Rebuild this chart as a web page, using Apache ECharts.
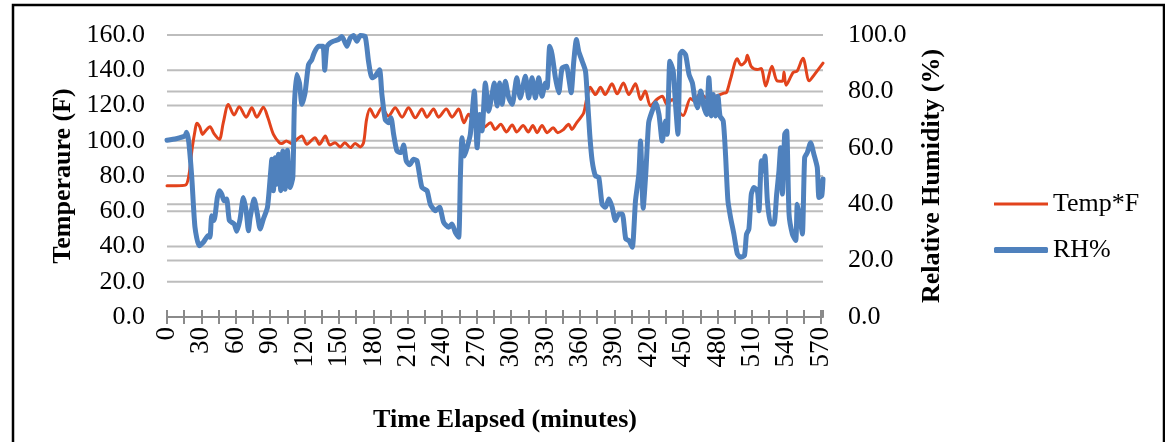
<!DOCTYPE html>
<html>
<head>
<meta charset="utf-8">
<script src="https://cdn.jsdelivr.net/npm/echarts@6/dist/echarts.min.js"></script>
<style>
  html, body { margin: 0; padding: 0; background: #fff; }
  #chart { width: 1165px; height: 442px; background: #fff; }
</style>
</head>
<body>
<div id="chart"></div>
<script>
// Chamber log: temperature (F) and relative humidity (%) vs. elapsed minutes
const tempMinutes = [0, 8, 16, 19, 22, 24.5, 26, 28.5, 31, 34, 37.5, 41, 45.6, 49, 53.5, 58.5, 63, 69, 74, 78.3, 84, 88, 92.8, 98, 100, 104, 108.8, 113, 117.5, 122, 129, 133, 138, 142, 146.6, 151, 155, 160, 164, 168.5, 171.4, 174, 177, 181.6, 187.4, 193, 199, 205, 210.6, 216.5, 222.3, 226.7, 232.4, 236.8, 243.5, 248.5, 254.3, 259, 263, 268, 271, 276, 282, 286, 291, 296, 301, 305, 310.5, 315, 319, 322.7, 327, 331.5, 336.7, 340.7, 345, 350.3, 353, 357, 360.5, 363.4, 366, 369, 373.6, 378, 382, 388, 392.5, 398, 402.7, 408.5, 413, 417, 421.6, 427, 431.8, 436, 440.5, 445, 450, 456.5, 460, 465, 470, 477, 485.6, 488, 491.4, 497.3, 500.5, 504.5, 506, 509.5, 514.8, 518, 522, 527.5, 532, 536.6, 538, 539.8, 546, 549.4, 554.5, 560, 564.5, 572];
const tempValues = [74.5, 74.5, 74.8, 80, 96, 106, 110, 108, 103.6, 106, 108, 104, 100.8, 110, 120.6, 114.6, 119.3, 113.4, 118.7, 113.4, 119, 113, 103.6, 98.8, 98.4, 99.9, 98.4, 100.6, 102.7, 98, 101.7, 98, 102.7, 97.6, 98.9, 96.5, 98.9, 96.1, 98.5, 96.5, 98.9, 112, 118.1, 113.4, 118.7, 114, 118.7, 113.4, 118.7, 113, 118, 113.4, 118, 113.4, 118, 113.4, 118, 110.2, 115, 111, 112, 107.4, 110.2, 106.4, 109.3, 105, 109, 105, 108.7, 105, 108.7, 104.6, 108.7, 104.6, 107.4, 104.6, 106, 109.3, 106.4, 110, 113, 115.9, 124, 130.4, 126.2, 130.4, 126.2, 132.3, 126.6, 132.8, 126.2, 132.3, 123.4, 128.2, 119.7, 123.4, 125.3, 120.6, 123.4, 118, 114.3, 124, 122.5, 126.8, 124.5, 125, 127, 127.5, 135, 146.5, 143, 145, 148.5, 142, 140.4, 141, 131, 142.3, 134, 133.8, 139, 131.5, 138.8, 139.5, 146.8, 134, 137.5, 144];

const rhMinutes = [0, 8, 15.7, 17, 19, 21.6, 24.4, 28, 31.7, 36, 37.5, 39, 41, 43.9, 45.7, 47.7, 49.8, 52, 54.4, 58.5, 60.8, 63.7, 66.6, 69, 71, 72.5, 76, 78.8, 81.2, 84, 87.6, 90, 91.4, 92.8, 94.3, 95.7, 97.2, 99.2, 101, 103, 105, 107.4, 109.7, 111, 113, 115.5, 117.6, 120.4, 123.4, 126.3, 128.3, 132, 136, 137.5, 139.4, 142.3, 145, 149.5, 152.5, 156.9, 159.7, 162.6, 165.6, 168.5, 172.8, 175.7, 178.7, 181.6, 185.3, 187.4, 190.3, 193.2, 195.3, 197.6, 200.5, 204, 206.3, 208.6, 211.5, 215, 218, 222.3, 226.7, 229.6, 234, 237.7, 241.2, 245.6, 248.5, 251.4, 254.3, 255.8, 257.2, 259.3, 261.6, 264.5, 268, 270.4, 272.6, 274.7, 277.6, 280.5, 283.4, 285.4, 287.8, 290, 292.2, 295, 298, 301, 305, 308, 312.5, 315.4, 318.3, 321.2, 324.1, 327, 330, 331.5, 333.7, 335.8, 338.7, 341.6, 344.5, 348.3, 350.3, 352.4, 354.7, 357, 359, 362, 364.9, 366.4, 368.6, 370.7, 373.6, 376.5, 379.4, 382.3, 385.3, 388.2, 391, 394, 397, 400, 402.8, 405.7, 408.5, 411.4, 412.9, 415.2, 417.5, 420, 423, 426, 429, 431.8, 434.7, 436.2, 438.5, 441.4, 443.4, 445.5, 447.3, 449.3, 452.2, 455.2, 458.1, 460.1, 462.5, 465.4, 468.3, 470.5, 472.5, 474.6, 476.4, 478.4, 480.4, 482.2, 485, 487, 489.1, 491.4, 494.3, 497.3, 500, 503.5, 505.3, 507.4, 509.5, 511.8, 514.8, 516.2, 518.3, 520, 521.4, 523.5, 526.3, 529.2, 531.6, 533.6, 535, 536.6, 538.6, 540.3, 542.4, 545.3, 548.2, 549.6, 551.9, 554, 556, 558.3, 561.2, 564.1, 567, 568.5, 570.9, 572];
const rhValues = [62.7, 63.2, 64.2, 65.5, 62, 49.5, 31.8, 25.3, 26.5, 28.9, 28.3, 35.9, 34.2, 42.4, 44.8, 43.6, 41.2, 41.8, 34.2, 33, 30.4, 34.7, 42.4, 37.7, 30.6, 35.3, 41.8, 36.5, 31.2, 34.7, 38.9, 49.5, 55.9, 44.8, 56.5, 47.1, 57.7, 44.8, 58.9, 45.3, 59.1, 45.9, 49.5, 74.2, 86, 83, 75.4, 79.5, 89.5, 91.3, 93.6, 96, 96, 87.5, 95.8, 97.2, 97.8, 98.4, 99.5, 96, 98.9, 99.8, 97.8, 99.8, 99.5, 90.7, 84.8, 85.4, 87.7, 78.9, 70, 68.9, 70.7, 64.8, 58.9, 58.3, 61, 55.4, 54, 55.9, 55.4, 45.9, 44.8, 40, 37.7, 38.9, 33.6, 31.8, 33, 30, 28.3, 49.5, 63.6, 57.1, 60, 64.8, 80.1, 60, 71.8, 66, 83, 73, 78.9, 83, 74.8, 83, 75.4, 83.6, 77.7, 75.4, 84.8, 77.7, 85.4, 77.7, 84.8, 77.7, 84.8, 78.3, 83, 81.3, 96, 93, 84.8, 79.5, 88.3, 88.9, 84.8, 79.5, 90.7, 98.4, 94.2, 90.7, 87.2, 78.9, 64.8, 55.4, 50, 49.5, 40, 38.9, 41.8, 38.9, 34.2, 36.5, 36.5, 27.7, 27.1, 24.7, 41.2, 50.6, 62.4, 38.6, 51, 69, 73, 76, 71.8, 62.4, 69.5, 64.8, 90.7, 87.2, 75.4, 64.8, 93, 94.2, 93, 86, 83, 77.7, 74.2, 80.1, 74.2, 71.8, 84.8, 71.3, 78.9, 71.3, 78.3, 71.3, 69.5, 57.7, 41.2, 35.3, 29.4, 22.4, 21.2, 21.8, 29.4, 31.2, 43.6, 45.9, 44.8, 37.7, 55.4, 51.8, 57.1, 41.2, 33, 33, 43.6, 51.8, 60, 43.6, 64.8, 66, 36.5, 29.4, 27.1, 40, 35.3, 29.4, 56.5, 58.3, 61.8, 57.7, 53, 42.4, 43, 48.9];

// horizontal gridline levels on each value axis, and the span of the time axis
const tempGridLevels = [20, 40, 60, 80, 100, 120, 140, 160];
const rhGridLevels = [20, 40, 60, 80, 100];
const timeSpan = [0, 572];

const seriesNames = ['Temp*F', 'RH%'];
const axisTitles = { x: 'Time Elapsed (minutes)', left: 'Temperaure (F)', right: 'Relative Humidity (%)' };

const pairs = (xs, ys) => xs.map((x, i) => [x, ys[i]]);

const FONT = "'Liberation Serif', 'Times New Roman', serif";
const GRID_COLOR = '#BDBDBD';
const AXIS_COLOR = '#8A8A8A';
const RED = '#E2431C';
const BLUE = '#4F81BD';

const chart = echarts.init(document.getElementById('chart'), null, { renderer: 'canvas' });

const legendText = { fontFamily: FONT, fontSize: 26, color: '#000' };

// one flat line per gridline level, spanning the whole time axis, under the data
const gridLines = (axisIndex, levels) => levels.map(v => ({
  type: 'line',
  name: 'level-' + axisIndex + '-' + v,
  xAxisIndex: 0,
  yAxisIndex: axisIndex,
  data: timeSpan.map(t => [t, v]),
  showSymbol: false,
  symbol: 'none',
  silent: true,
  clip: false,
  z: 1,
  lineStyle: { color: GRID_COLOR, width: 2, type: 'solid' },
  emphasis: { disabled: true },
  tooltip: { show: false }
}));

chart.setOption({
  animation: false,
  grid: { left: 167, right: 342, top: 35, bottom: 125 },
  legend: [
    {
      left: 989, top: 186,
      itemWidth: 54, itemHeight: 3,
      icon: 'rect',
      data: [seriesNames[0]],
      textStyle: legendText,
      selectedMode: false
    },
    {
      left: 989, top: 232,
      itemWidth: 54, itemHeight: 6,
      icon: 'roundRect',
      data: [seriesNames[1]],
      textStyle: legendText,
      selectedMode: false
    }
  ],
  xAxis: [
    {
      type: 'value',
      min: timeSpan[0],
      max: timeSpan[1],
      interval: 15,
      axisLine: { show: true, lineStyle: { color: AXIS_COLOR, width: 2 } },
      axisTick: { show: true, length: 7, lineStyle: { color: AXIS_COLOR, width: 2 } },
      axisLabel: {
        rotate: 90,
        margin: 10,
        fontFamily: FONT,
        fontSize: 27,
        color: '#000',
        showMaxLabel: false,
        formatter: v => (v % 30 === 0 ? String(v) : '')
      },
      splitLine: { show: false }
    },
    {
      // inward half of the crossing tick marks
      type: 'value',
      position: 'bottom',
      min: timeSpan[0],
      max: timeSpan[1],
      interval: 15,
      axisLine: { show: false },
      axisTick: { show: true, inside: true, length: 7, lineStyle: { color: AXIS_COLOR, width: 2 } },
      axisLabel: { show: false },
      splitLine: { show: false }
    }
  ],
  yAxis: [
    {
      type: 'value',
      min: 0,
      max: 160,
      interval: 20,
      axisLine: { show: false },
      axisTick: { show: false },
      axisLabel: {
        margin: 22,
        fontFamily: FONT,
        fontSize: 26,
        color: '#000',
        formatter: v => v.toFixed(1)
      },
      splitLine: { show: false }
    },
    {
      type: 'value',
      min: 0,
      max: 100,
      interval: 20,
      position: 'right',
      axisLine: { show: false },
      axisTick: { show: false },
      axisLabel: {
        margin: 25,
        fontFamily: FONT,
        fontSize: 26,
        color: '#000',
        formatter: v => v.toFixed(1)
      },
      splitLine: { show: false }
    }
  ],
  series: [
    ...gridLines(0, tempGridLevels),
    ...gridLines(1, rhGridLevels),
    {
      name: seriesNames[0],
      type: 'line',
      xAxisIndex: 0,
      yAxisIndex: 0,
      data: pairs(tempMinutes, tempValues),
      showSymbol: false,
      symbol: 'none',
      smooth: 0.3,
      lineStyle: { color: RED, width: 3, cap: 'round', join: 'round' },
      itemStyle: { color: RED },
      z: 2
    },
    {
      name: seriesNames[1],
      type: 'line',
      xAxisIndex: 0,
      yAxisIndex: 1,
      data: pairs(rhMinutes, rhValues),
      showSymbol: false,
      symbol: 'none',
      smooth: 0.2,
      lineStyle: { color: BLUE, width: 5, cap: 'round', join: 'round' },
      itemStyle: { color: BLUE },
      z: 3
    }
  ],
  graphic: [
    {
      type: 'rect',
      shape: { x: 13, y: 5, width: 1151, height: 470 },
      style: { fill: 'none', stroke: '#000', lineWidth: 2.5 },
      silent: true
    },
    {
      type: 'text',
      x: 63,
      y: 176,
      rotation: Math.PI / 2,
      style: {
        text: axisTitles.left,
        font: 'bold 26px ' + FONT,
        fill: '#000',
        align: 'center',
        verticalAlign: 'middle'
      }
    },
    {
      type: 'text',
      x: 932,
      y: 176,
      rotation: Math.PI / 2,
      style: {
        text: axisTitles.right,
        font: 'bold 26px ' + FONT,
        fill: '#000',
        align: 'center',
        verticalAlign: 'middle'
      }
    },
    {
      type: 'text',
      x: 505,
      y: 420,
      style: {
        text: axisTitles.x,
        font: 'bold 26px ' + FONT,
        fill: '#000',
        align: 'center',
        verticalAlign: 'middle'
      }
    }
  ]
});
</script>
</body>
</html>
